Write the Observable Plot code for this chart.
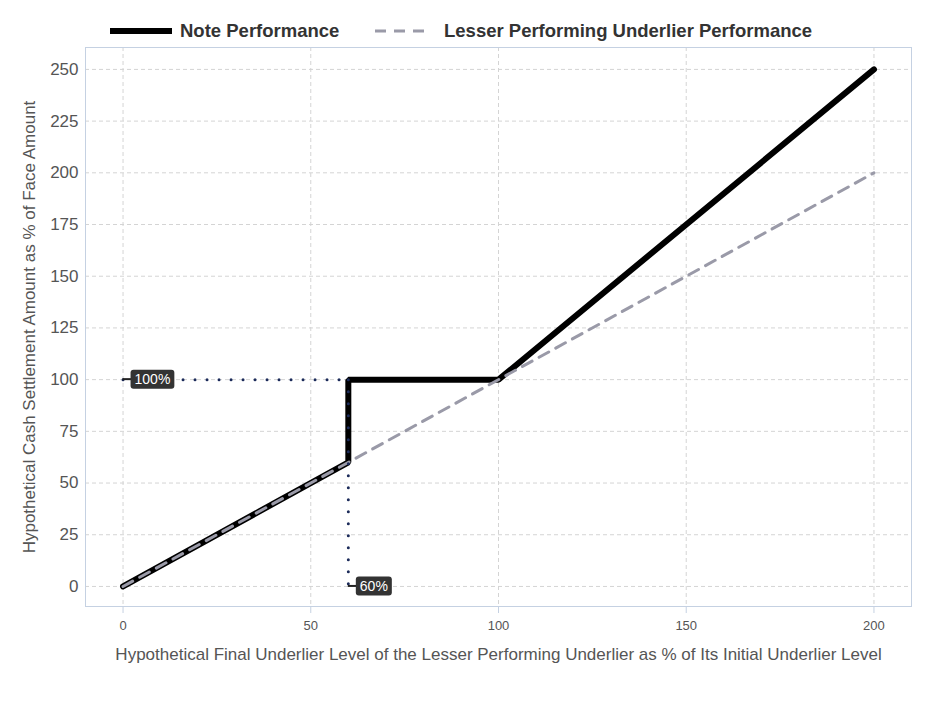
<!DOCTYPE html>
<html><head><meta charset="utf-8">
<script src="https://cdn.jsdelivr.net/npm/d3@7"></script>
<script src="https://cdn.jsdelivr.net/npm/@observablehq/plot@0.6"></script>
<style>
body{margin:0;background:#fff;font-family:"Liberation Sans",Arial,sans-serif;}
#legend{position:relative;height:46px;width:938px;}
#legend span{position:absolute;top:21px;font-weight:bold;font-size:18.5px;line-height:20px;color:#333;white-space:nowrap;}
#legend svg{position:absolute;top:0;left:0;}
</style></head>
<body>
<div id="legend"></div>
<div id="chart"></div>
<script>
// ---- data ----
const noteX = [0, 60, 60, 100, 200];
const noteY = [0, 60, 100, 100, 250];
const underX = [0, 200];
const underY = [0, 200];
const xTicks = [0, 50, 100, 150, 200];
const yTicks = [0, 25, 50, 75, 100, 125, 150, 175, 200, 225, 250];
const refHX = [0, 60];   // horizontal reference (100%)
const refHY = [100, 100];
const refVX = [60, 60];  // vertical reference (60% barrier)
const refVY = [100, 0];
const labelX = [0, 60];
const labelY = [100, 0];
const labelText = ["100%", "60%"];
const seriesNames = ["Note Performance", "Lesser Performing Underlier Performance"];
const xTitle = "Hypothetical Final Underlier Level of the Lesser Performing Underlier as % of Its Initial Underlier Level";
const yTitle = "Hypothetical Cash Settlement Amount as % of Face Amount";

const note = noteX.map((x, i) => ({x, y: noteY[i]}));
const under = underX.map((x, i) => ({x, y: underY[i]}));
const refH = refHX.map((x, i) => ({x, y: refHY[i]}));
const refV = refVX.map((x, i) => ({x, y: refVY[i]}));
const labels = labelX.map((x, i) => ({x, y: labelY[i], t: labelText[i]}));

// ---- legend ----
const leg = document.getElementById("legend");
leg.innerHTML = `<svg width="938" height="46">
<line x1="110" x2="172" y1="31" y2="31" stroke="#000" stroke-width="6"/>
<line x1="375" x2="432" y1="31" y2="31" stroke="#9a9aa8" stroke-width="3" stroke-dasharray="11,8"/>
</svg><span style="left:180px">${seriesNames[0]}</span><span style="left:444px">${seriesNames[1]}</span>`;

// ---- label boxes (custom mark using Plot scales) ----
const ctx2d = document.createElement("canvas").getContext("2d");
ctx2d.font = "14px 'Liberation Sans', Arial, sans-serif";
function labelMark(index, scales) {
  const g = d3.create("svg:g");
  for (const d of labels) {
    const px = scales.x(d.x), py = scales.y(d.y);
    const w = ctx2d.measureText(d.t).width + 8;
    g.append("line").attr("x1", px).attr("x2", px + 9).attr("y1", py).attr("y2", py)
      .attr("stroke", "#222").attr("stroke-width", 2);
    g.append("rect").attr("x", px + 8).attr("y", py - 9.5).attr("width", w).attr("height", 19)
      .attr("rx", 3).attr("fill", "#333");
    g.append("text").attr("x", px + 8 + w / 2).attr("y", py + 5).attr("text-anchor", "middle")
      .attr("fill", "#fff").attr("font-size", 14).attr("font-family", "'Liberation Sans', Arial, sans-serif")
      .text(d.t);
  }
  return g.node();
}

const gridStyle = {stroke: "#d4d4d4", strokeOpacity: 1, strokeDasharray: "4,3"};

const chart = Plot.plot({
  width: 938,
  height: 657,
  marginTop: 1,
  marginLeft: 85,
  marginRight: 27,
  marginBottom: 97,
  style: {fontFamily: "'Liberation Sans', Arial, sans-serif", background: "#fff"},
  x: {domain: [-10, 210]},
  y: {domain: [-9.7, 260.6]},
  marks: [
    Plot.gridX(xTicks, gridStyle),
    Plot.gridY(yTicks, gridStyle),
    Plot.frame({stroke: "#c5d1e2"}),
    Plot.axisY(yTicks, {tickSize: 0, tickPadding: 7, fontSize: 17, fill: "#555", label: null}),
    Plot.axisX(xTicks, {tickSize: 7, tickPadding: 7, fontSize: 13, fill: "#555", stroke: "#c5d1e2", label: null}),
    Plot.line(note, {x: "x", y: "y", stroke: "#000", strokeWidth: 6, strokeLinejoin: "miter"}),
    Plot.line(under, {x: "x", y: "y", stroke: "#9a9aa8", strokeWidth: 3, strokeDasharray: "11,8"}),
    Plot.line(refH, {x: "x", y: "y", stroke: "#1c2b5a", strokeWidth: 3, strokeDasharray: "0,12", strokeLinecap: "round"}),
    Plot.line(refV, {x: "x", y: "y", stroke: "#1c2b5a", strokeWidth: 3, strokeDasharray: "0,12", strokeLinecap: "round"}),
    labelMark,
    Plot.text([xTitle], {frameAnchor: "bottom", dy: 48, fontSize: 17, fill: "#555", lineAnchor: "middle", textAnchor: "middle"}),
    Plot.text([yTitle], {frameAnchor: "left", dx: -56, rotate: -90, fontSize: 17, fill: "#555", lineAnchor: "middle", textAnchor: "middle"})
  ]
});
document.getElementById("chart").appendChild(chart);
</script>
</body></html>
